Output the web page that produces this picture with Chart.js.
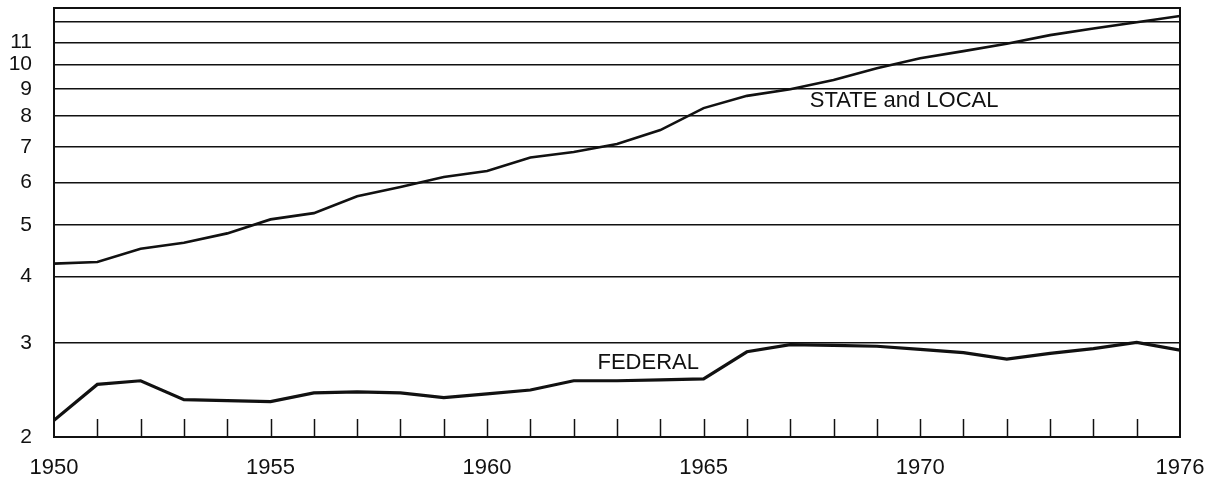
<!DOCTYPE html>
<html>
<head>
<meta charset="utf-8">
<script src="https://cdn.jsdelivr.net/npm/chart.js@4/dist/chart.umd.min.js"></script>
<style>
  body { margin: 0; background: #fff; }
  #wrap { width: 1218px; height: 479px; position: relative; }
</style>
</head>
<body>
<div id="wrap"><canvas id="chart"></canvas></div>
<script>
const years = [1950, 1951, 1952, 1953, 1954, 1955, 1956, 1957, 1958, 1959, 1960, 1961, 1962,
    1963, 1964, 1965, 1966, 1967, 1968, 1969, 1970, 1971, 1972, 1973, 1974, 1975, 1976];
const stateLocal = [4.23, 4.26, 4.51, 4.63, 4.82, 5.12, 5.26, 5.66, 5.89, 6.15, 6.31, 6.69, 6.85,
    7.09, 7.53, 8.28, 8.73, 8.98, 9.35, 9.84, 10.27, 10.59, 10.93, 11.35, 11.68, 12.0, 12.33];
const federal = [2.15, 2.51, 2.55, 2.35, 2.34, 2.33, 2.42, 2.43, 2.42, 2.37, 2.41, 2.45, 2.55,
    2.55, 2.56, 2.57, 2.89, 2.98, 2.97, 2.96, 2.92, 2.88, 2.80, 2.87, 2.93, 3.01, 2.91];
const yGridValues = [2, 3, 4, 5, 6, 7, 8, 9, 10, 11, 12];
const yTickLabels = [2, 3, 4, 5, 6, 7, 8, 9, 10, 11];
const xTickLabels = [1950, 1955, 1960, 1965, 1970, 1976];
const seriesLabels = [
    { text: 'STATE and LOCAL', x: 1967.45, y: 8.55 },
    { text: 'FEDERAL', x: 1962.55, y: 2.76 }
];

const font = "'Liberation Sans', Arial, Helvetica, sans-serif";
const ink = '#111';

// frame, inward year ticks and the series names
const extras = {
    id: 'extras',
    afterDraw(chart) {
        const ctx = chart.ctx;
        const a = chart.chartArea;
        const xs = chart.scales.x, ys = chart.scales.y;
        ctx.save();
        ctx.strokeStyle = ink;
        ctx.lineWidth = 2;
        ctx.strokeRect(a.left, a.top, a.right - a.left, a.bottom - a.top);
        ctx.lineWidth = 1.5;
        for (let yr of years) {
            if (yr === years[0] || yr === years[years.length - 1]) continue;
            let px = Math.round(xs.getPixelForValue(yr)) + 0.5;
            ctx.beginPath();
            ctx.moveTo(px, a.bottom);
            ctx.lineTo(px, a.bottom - 18);
            ctx.stroke();
        }
        ctx.fillStyle = ink;
        ctx.font = '22px ' + font;
        ctx.textAlign = 'left';
        ctx.textBaseline = 'middle';
        for (let s of seriesLabels) {
            ctx.fillText(s.text, xs.getPixelForValue(s.x), ys.getPixelForValue(s.y));
        }
        ctx.restore();
    }
};

new Chart(document.getElementById('chart'), {
    type: 'line',
    data: {
        datasets: [
            {
                label: 'STATE and LOCAL',
                data: years.map((yr, i) => ({ x: yr, y: stateLocal[i] })),
                borderColor: ink,
                borderWidth: 2.6,
                pointRadius: 0,
                tension: 0
            },
            {
                label: 'FEDERAL',
                data: years.map((yr, i) => ({ x: yr, y: federal[i] })),
                borderColor: ink,
                borderWidth: 3.2,
                pointRadius: 0,
                tension: 0
            }
        ]
    },
    options: {
        responsive: true,
        maintainAspectRatio: false,
        animation: false,
        layout: { padding: { top: 8, right: 38, left: 0, bottom: 0 } },
        plugins: { legend: { display: false }, tooltip: { enabled: false } },
        scales: {
            x: {
                type: 'linear',
                min: 1950,
                max: 1976,
                grid: { drawOnChartArea: false, drawTicks: false },
                border: { display: true, color: ink, width: 2 },
                ticks: {
                    stepSize: 1,
                    autoSkip: false,
                    maxRotation: 0,
                    padding: 18,
                    color: ink,
                    font: { family: font, size: 22 },
                    callback: (v) => xTickLabels.includes(v) ? String(v) : ''
                },
                afterFit: (scale) => {
                    scale.height = 42;
                    scale.paddingLeft = 0;
                    scale.paddingRight = 0;
                }
            },
            y: {
                type: 'logarithmic',
                min: 2,
                max: 12.76,
                afterBuildTicks: (scale) => {
                    scale.ticks = yGridValues.map(v => ({ value: v }));
                },
                grid: { color: ink, lineWidth: 1.6, drawTicks: false },
                border: { display: true, color: ink, width: 2 },
                ticks: {
                    padding: 22,
                    color: ink,
                    font: { family: font, size: 21 },
                    callback: (v) => yTickLabels.includes(v) ? String(v) : ''
                },
                afterFit: (scale) => {
                    scale.width = 54;
                    scale.paddingTop = 0;
                    scale.paddingBottom = 0;
                }
            }
        }
    },
    plugins: [extras]
});
</script>
</body>
</html>
